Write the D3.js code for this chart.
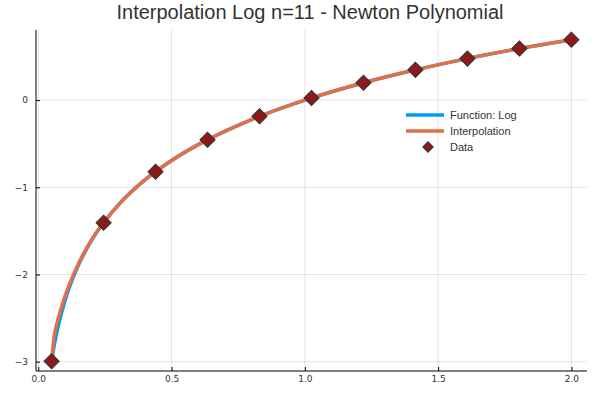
<!DOCTYPE html>
<html><head><meta charset="utf-8">
<script src="https://cdn.jsdelivr.net/npm/d3@7"></script>
<style>body{margin:0;background:#fff}</style></head>
<body><svg id="c" width="600" height="400"></svg>
<script>
const dataX=[0.05,0.245,0.44,0.635,0.83,1.025,1.22,1.415,1.61,1.805,2.0];
const dataY=[-2.996,-1.406,-0.821,-0.454,-0.186,0.025,0.199,0.347,0.476,0.591,0.693];
const curveX=[0.05,0.06,0.07,0.08,0.1,0.12,0.15,0.2,0.25,0.3,0.4,0.5,0.6,0.8,1.0,1.2,1.4,1.6,1.8,2.0];
const funcY=[-2.996,-2.813,-2.659,-2.526,-2.303,-2.120,-1.897,-1.609,-1.386,-1.204,-0.916,-0.693,-0.511,-0.223,0,0.182,0.336,0.470,0.588,0.693];
const interpY=[-2.996,-2.70,-2.56,-2.45,-2.25,-2.09,-1.88,-1.60,-1.386,-1.204,-0.916,-0.693,-0.511,-0.223,0,0.182,0.336,0.470,0.588,0.693];
const xTicks=[0,0.5,1.0,1.5,2.0], yTicks=[-3,-2,-1,0];
const svg=d3.select("#c");
const L=36,R=587,T=30,B=371;
const x=d3.scaleLinear().domain([-0.0085,2.0585]).range([L,R]);
const y=d3.scaleLinear().domain([-3.107,0.804]).range([B,T]);
const g=svg.append("g");
xTicks.forEach(t=>g.append("line").attr("x1",x(t)).attr("x2",x(t)).attr("y1",T).attr("y2",B).attr("stroke","#000").attr("stroke-opacity",0.1));
yTicks.forEach(t=>g.append("line").attr("x1",L).attr("x2",R).attr("y1",y(t)).attr("y2",y(t)).attr("stroke","#000").attr("stroke-opacity",0.1));
const fmt=d=>d.toFixed(1);
svg.append("g").attr("transform",`translate(0,${B})`).call(d3.axisBottom(x).tickValues(xTicks).tickFormat(fmt).tickSize(-4).tickPadding(5))
 .call(a=>{a.select(".domain").attr("d",`M${L},0H${R}`);a.selectAll("text").attr("font-size",9).attr("font-family","DejaVu Sans").attr("fill","#333");});
svg.append("g").attr("transform",`translate(${L},0)`).call(d3.axisLeft(y).tickValues(yTicks).tickFormat(d3.format("d")).tickSize(-4).tickPadding(8))
 .call(a=>{a.select(".domain").attr("d",`M0,${T}V${B}`);a.selectAll("text").attr("font-size",9).attr("font-family","DejaVu Sans").attr("fill","#333");});
const line=d3.line().x(d=>x(d[0])).y(d=>y(d[1])).curve(d3.curveMonotoneX);
svg.append("path").attr("d",line(curveX.map((v,i)=>[v,funcY[i]]))).attr("fill","none").attr("stroke","#009AFA").attr("stroke-width",3.5);
svg.append("path").attr("d",line(curveX.map((v,i)=>[v,interpY[i]]))).attr("fill","none").attr("stroke","#E26F46").attr("stroke-width",3.5);
const dia=d3.symbol().type(d3.symbolSquare).size(115);
dataX.forEach((v,i)=>svg.append("path").attr("d",dia()).attr("transform",`translate(${x(v)},${y(dataY[i])}) rotate(45)`).attr("fill","#8B1A1A").attr("stroke","#333").attr("stroke-width",1));
svg.append("text").attr("x",310).attr("y",19).attr("text-anchor","middle").attr("font-family","Liberation Sans").attr("font-size",20).attr("fill","#333").text("Interpolation Log n=11 - Newton Polynomial");
const lg=svg.append("g").attr("font-family","Liberation Sans").attr("font-size",11).attr("fill","#333");
lg.append("line").attr("x1",406).attr("x2",444).attr("y1",115).attr("y2",115).attr("stroke","#009AFA").attr("stroke-width",3.5);
lg.append("line").attr("x1",406).attr("x2",444).attr("y1",131).attr("y2",131).attr("stroke","#E26F46").attr("stroke-width",3.5);
lg.append("path").attr("d",d3.symbol().type(d3.symbolSquare).size(55)()).attr("transform","translate(428,147) rotate(45)").attr("fill","#8B1A1A").attr("stroke","#333");
lg.append("text").attr("x",450).attr("y",119).text("Function: Log");
lg.append("text").attr("x",450).attr("y",135).text("Interpolation");
lg.append("text").attr("x",450).attr("y",151).text("Data");
</script></body></html>
